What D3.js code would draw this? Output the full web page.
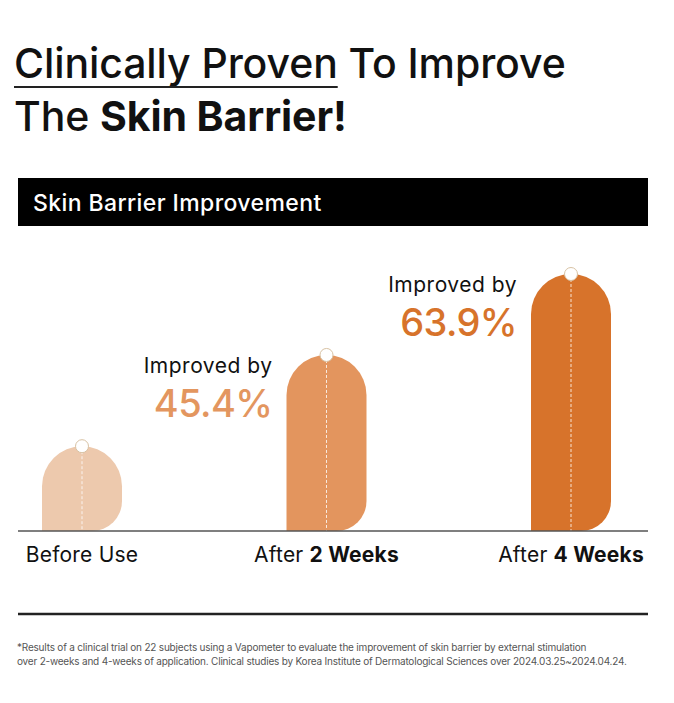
<!DOCTYPE html>
<html>
<head>
<meta charset="utf-8">
<script src="https://cdn.jsdelivr.net/npm/d3@7"></script>
<style>
  html, body { margin: 0; padding: 0; background: #fff; }
  svg { display: block; font-family: Inter, "Liberation Sans", Arial, sans-serif; }
</style>
</head>
<body>
<div id="chart"></div>
<script>
// chart data
const categories = ["Before Use", "After 2 Weeks", "After 4 Weeks"];
const labelPlain = ["Before Use", "After ", "After "];
const labelBold = ["", "2 Weeks", "4 Weeks"];
const barLevel = [33, 68.5, 100];          // relative barrier level (bar heights)
const improvement = [null, "45.4%", "63.9%"];
const barColors = ["#edc9ad", "#e3955e", "#d7732b"];
const pctColors = [null, "#e3965f", "#d7732b"];
const footnote = [
  "*Results of a clinical trial on 22 subjects using a Vapometer to evaluate the improvement of skin barrier by external stimulation",
  "over 2-weeks and 4-weeks of application. Clinical studies by Korea Institute of Dermatological Sciences over 2024.03.25~2024.04.24."
];

const width = 674, height = 703;
const baseY = 531, barW = 80;

const svg = d3.select("#chart").append("svg")
  .attr("width", width)
  .attr("height", height);

// ---- headline
const title = svg.append("text")
  .attr("x", 14).attr("y", 78)
  .attr("font-size", 41).attr("font-weight", 500)
  .attr("letter-spacing", -0.1).attr("fill", "#111");
const underlined = title.append("tspan").text("Clinically Proven");
title.append("tspan").text(" To Improve");
const uw = underlined.node().getComputedTextLength();
svg.append("line")
  .attr("x1", 14).attr("x2", 14 + uw)
  .attr("y1", 87).attr("y2", 87)
  .attr("stroke", "#222").attr("stroke-width", 2);

const title2 = svg.append("text")
  .attr("x", 14).attr("y", 131)
  .attr("font-size", 41).attr("font-weight", 500)
  .attr("letter-spacing", -0.1).attr("fill", "#111");
title2.append("tspan").text("The ");
title2.append("tspan").attr("font-weight", "bold").text("Skin Barrier!");

// ---- black header band
svg.append("rect")
  .attr("x", 18).attr("y", 178)
  .attr("width", 630).attr("height", 48)
  .attr("fill", "#000");
svg.append("text")
  .attr("x", 33).attr("y", 211)
  .attr("font-size", 23).attr("font-weight", 500)
  .attr("letter-spacing", 0.4).attr("fill", "#fff")
  .text("Skin Barrier Improvement");

// ---- scales
const x = d3.scalePoint()
  .domain(categories)
  .range([82, 571]);

const y = d3.scaleLinear()
  .domain([0, 100])
  .range([baseY, 274]);

// rounded top, rounded bottom-right corner, square bottom-left
function barPath(cx, top) {
  const x0 = cx - barW / 2, x1 = cx + barW / 2, r = barW / 2;
  const rb = Math.min(30, baseY - top - r);
  return `M${x0},${baseY} L${x0},${top + r} A${r},${r} 0 0 1 ${x1},${top + r}`
    + ` L${x1},${baseY - rb} A${rb},${rb} 0 0 1 ${x1 - rb},${baseY} Z`;
}

const bars = svg.selectAll("g.bar")
  .data(categories)
  .join("g")
    .attr("class", "bar");

bars.append("path")
  .attr("d", (d, i) => barPath(x(d), y(barLevel[i])))
  .attr("fill", (d, i) => barColors[i]);

// dashed center line
bars.append("line")
  .attr("x1", d => x(d)).attr("x2", d => x(d))
  .attr("y1", (d, i) => y(barLevel[i]))
  .attr("y2", baseY)
  .attr("stroke", "#fff")
  .attr("stroke-opacity", 0.8)
  .attr("stroke-width", 1)
  .attr("stroke-dasharray", "3,2");

// marker on top
bars.append("circle")
  .attr("cx", d => x(d))
  .attr("cy", (d, i) => y(barLevel[i]))
  .attr("r", 6.5)
  .attr("fill", "#fff")
  .attr("stroke", "#d8c2a4")
  .attr("stroke-width", 1);

// baseline
svg.append("line")
  .attr("x1", 18).attr("x2", 648)
  .attr("y1", baseY).attr("y2", baseY)
  .attr("stroke", "#555").attr("stroke-width", 1.5);

// annotations
const notes = bars.filter((d, i) => improvement[i] !== null);
notes.append("text")
  .attr("x", d => x(d) - barW / 2 - 14)
  .attr("y", d => y(barLevel[categories.indexOf(d)]) + 18)
  .attr("text-anchor", "end")
  .attr("font-size", 21)
  .attr("letter-spacing", 0.5)
  .attr("fill", "#111")
  .text("Improved by");
notes.append("text")
  .attr("x", d => x(d) - barW / 2 - 14)
  .attr("y", d => y(barLevel[categories.indexOf(d)]) + 62)
  .attr("text-anchor", "end")
  .attr("font-size", 38)
  .attr("font-weight", 500)
  .attr("letter-spacing", -0.6)
  .attr("fill", d => pctColors[categories.indexOf(d)])
  .text(d => improvement[categories.indexOf(d)]);

// category labels
const cats = svg.selectAll("text.cat")
  .data(categories)
  .join("text")
    .attr("class", "cat")
    .attr("x", d => x(d))
    .attr("y", 562)
    .attr("text-anchor", "middle")
    .attr("font-size", 21)
    .attr("letter-spacing", 0.2)
    .attr("fill", "#111");
cats.append("tspan").text((d, i) => labelPlain[i]);
cats.append("tspan").attr("font-weight", "bold").text((d, i) => labelBold[i]);

// ---- footer
svg.append("line")
  .attr("x1", 18).attr("x2", 648)
  .attr("y1", 614).attr("y2", 614)
  .attr("stroke", "#222").attr("stroke-width", 2.5);

svg.selectAll("text.foot")
  .data(footnote)
  .join("text")
    .attr("class", "foot")
    .attr("x", 17)
    .attr("y", (d, i) => 651 + i * 13.5)
    .attr("font-size", 10)
    .attr("letter-spacing", -0.2)
    .attr("fill", "#555")
    .text(d => d);
</script>
</body>
</html>
